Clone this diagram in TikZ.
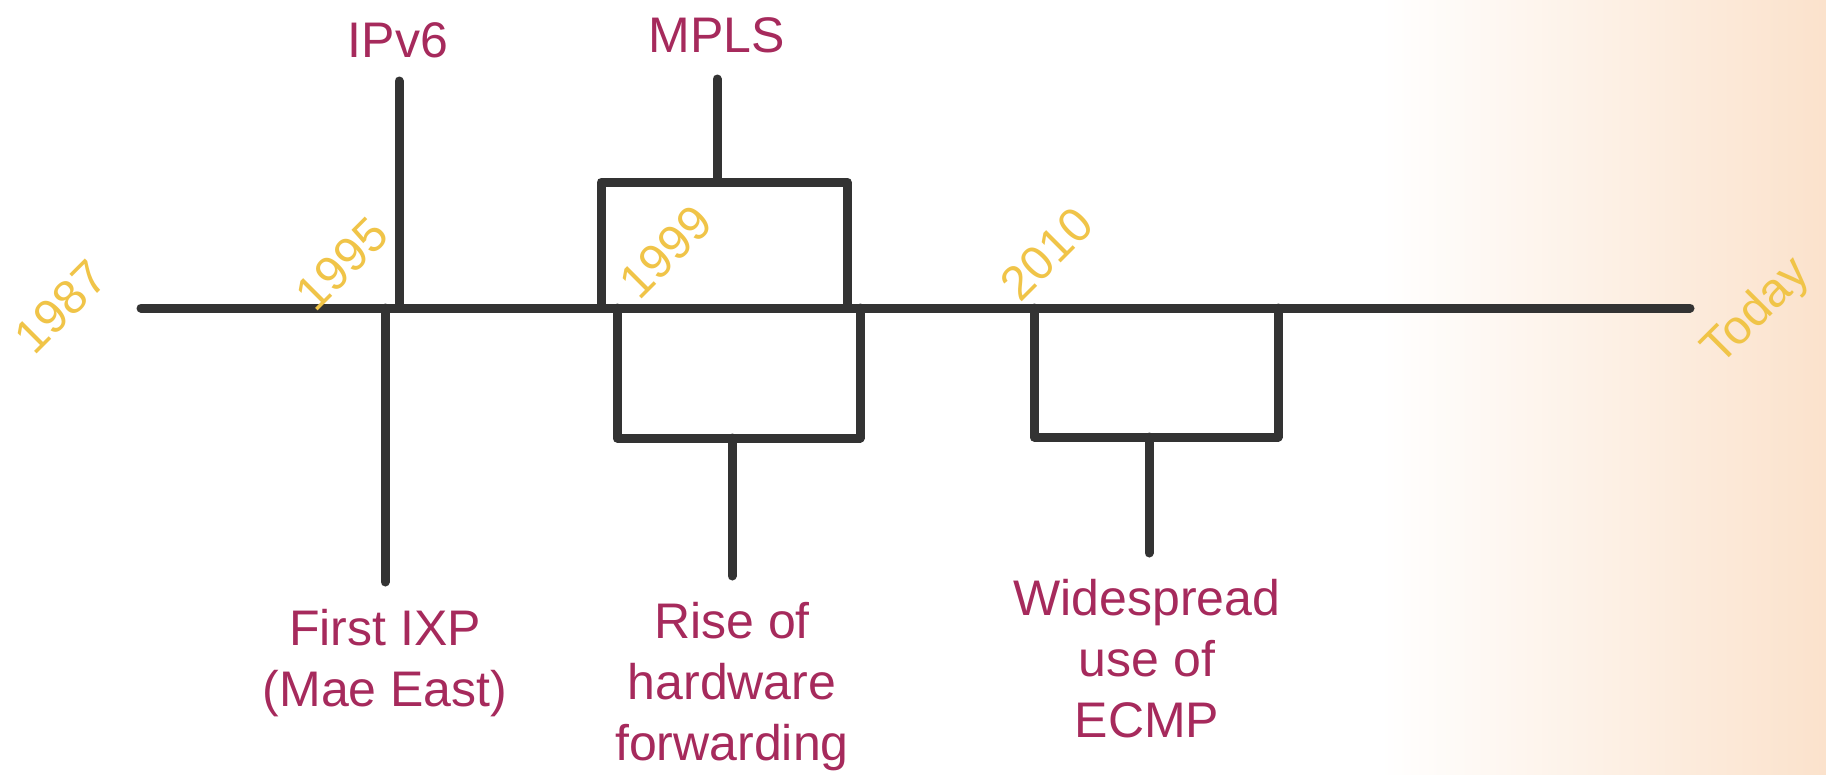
\documentclass[tikz,border=0pt]{standalone}
\usepackage{fontspec}
\setmainfont{Liberation Sans}
\definecolor{axis}{RGB}{51,51,51}
\definecolor{event}{RGB}{166,42,92}
\definecolor{year}{RGB}{240,196,72}
\definecolor{peach}{RGB}{251,226,204}
\tikzset{
  line/.style={draw=axis, line width=9pt, line cap=round, line join=round},
  eventlabel/.style={text=event, inner sep=0pt, align=center,
    font=\fontsize{50}{61}\selectfont},
  yearlabel/.style={text=year, inner sep=0pt, rotate=45,
    font=\fontsize{48}{54}\selectfont}
}
\begin{document}
\begin{tikzpicture}[x=1pt, y=-1pt]
  \useasboundingbox (0,0) rectangle (1826,774);
  % soft warm wash on the right
  \fill[white] (0,0) rectangle (1826,774);
  \shade[left color=white, right color=peach] (1380,0) rectangle (1826,774);

  % timeline axis
  \coordinate (start) at (141,308);
  \coordinate (today) at (1690,308);
  \draw[line] (start) -- (today);

  % year marks
  \node[yearlabel] (y1987) at (61,307) {1987};
  \node[yearlabel] (y1995) at (342,264) {1995};
  \node[yearlabel] (y1999) at (666,252) {1999};
  \node[yearlabel] (y2010) at (1047,254) {2010};
  \node[yearlabel] (ytoday) at (1757,312) {Today};

  % IPv6 (above)
  \node[eventlabel, anchor=base] (ipv6) at (398,57) {IPv6};
  \coordinate (ipv6top) at (399,81);
  \coordinate (ipv6base) at (399,308);
  \draw[line] (ipv6top) -- (ipv6base);

  % First IXP (below)
  \node[eventlabel, anchor=north] (ixp) at (385,609) {First IXP\\(Mae East)};
  \coordinate (ixptop) at (385,308);
  \coordinate (ixpend) at (385,582);
  \draw[line] (ixptop) -- (ixpend);

  % MPLS bracket (above)
  \node[eventlabel, anchor=base] (mpls) at (717,52) {MPLS};
  \coordinate (mplsL) at (601,308);
  \coordinate (mplsR) at (847,308);
  \coordinate (mplsstem) at (717,182);
  \coordinate (mplsend) at (717,79);
  \draw[line] (mplsL) |- (mplsstem) -| (mplsR);
  \draw[line] (mplsstem) -- (mplsend);

  % hardware forwarding bracket (below)
  \node[eventlabel, anchor=north] (hw) at (732,602) {Rise of\\hardware\\forwarding};
  \coordinate (hwL) at (617,308);
  \coordinate (hwR) at (860,308);
  \coordinate (hwstem) at (732,438);
  \coordinate (hwend) at (732,576);
  \draw[line] (hwL) |- (hwstem) -| (hwR);
  \draw[line] (hwstem) -- (hwend);

  % ECMP bracket (below)
  \node[eventlabel, anchor=north] (ecmp) at (1147,579) {Widespread\\use of\\ECMP};
  \coordinate (ecmpL) at (1034,308);
  \coordinate (ecmpR) at (1278,308);
  \coordinate (ecmpstem) at (1149,437);
  \coordinate (ecmpend) at (1149,553);
  \draw[line] (ecmpL) |- (ecmpstem) -| (ecmpR);
  \draw[line] (ecmpstem) -- (ecmpend);
\end{tikzpicture}
\end{document}
